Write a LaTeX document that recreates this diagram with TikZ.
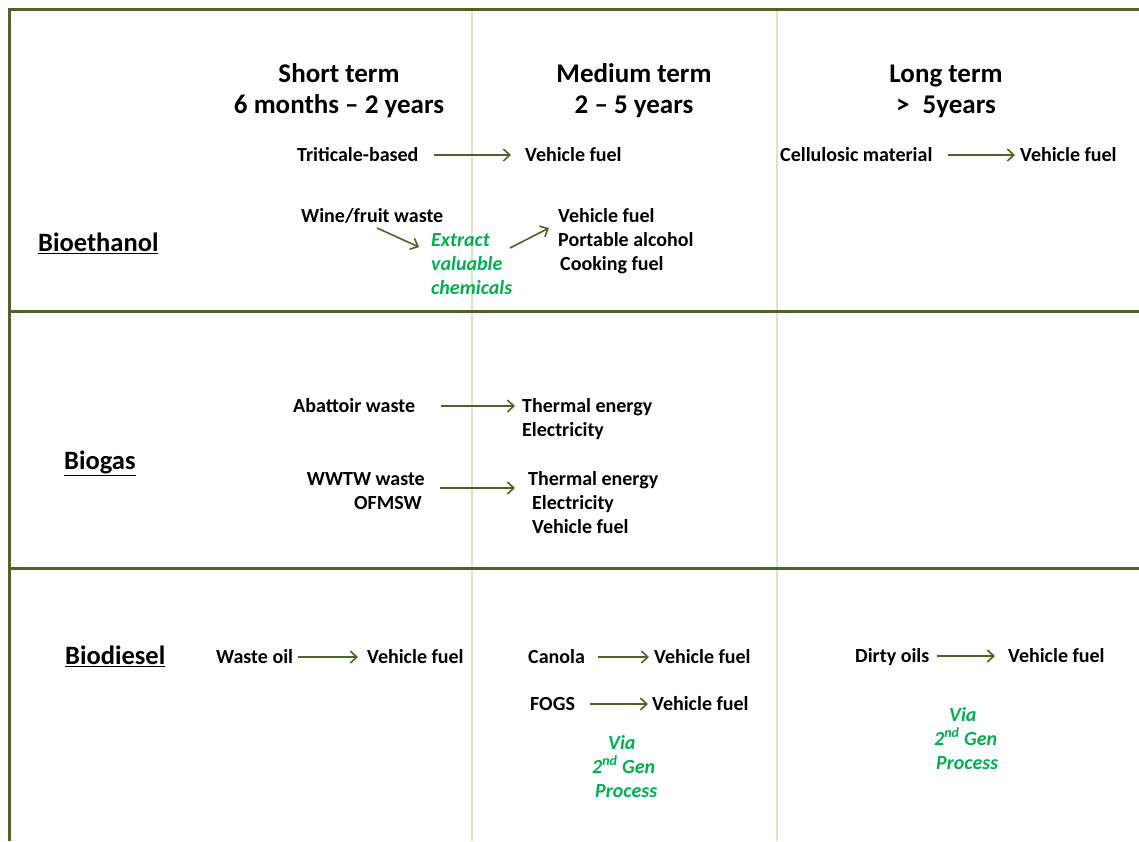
\documentclass[tikz,border=0pt]{standalone}
\usepackage{fontspec}
\setmainfont{Carlito}
\usetikzlibrary{arrows.meta,calc}
\definecolor{cGrid}{HTML}{4F6228}
\definecolor{cGridLight}{HTML}{DCE6C6}
\definecolor{cFlow}{HTML}{4F6228}
\definecolor{cNote}{HTML}{00B050}
\tikzset{
  colHead/.style={font=\bfseries\fontsize{27}{31}\selectfont, align=center,
                  anchor=base, inner sep=0pt},
  rowHead/.style={font=\bfseries\fontsize{26.5}{30}\selectfont, anchor=west,
                  inner sep=0pt, text height=17pt, text depth=0pt},
  item/.style={font=\bfseries\fontsize{20}{24}\selectfont, anchor=west,
               inner sep=0pt, text height=12.9pt, text depth=0pt},
  note/.style={item, font=\bfseries\itshape\fontsize{20}{24}\selectfont, text=cNote},
  flow/.style={draw=cFlow, line width=1.6pt, -{Straight Barb[length=6.5pt,width=12pt]}},
  gridMain/.style={draw=cGrid, line width=3pt},
  gridLight/.style={draw=cGridLight, line width=1.5pt},
}
\begin{document}
\begin{tikzpicture}[x=1pt, y=-1pt]
\useasboundingbox (0,0) rectangle (1139,841);

% ========== GRID ==========
\draw[gridLight] (472,9) -- (472,841);
\draw[gridLight] (777,9) -- (777,841);
\draw[gridMain] (1139,9) -- (9,9) -- (9,841);
\draw[gridMain] (9,311) -- (1139,311);
\draw[gridMain] (9,568) -- (1139,568);

% ========== COLUMN HEADINGS ==========
\node[colHead] (hShort) at (339,113) {Short term\\6 months -- 2 years};
\node[colHead] (hMed) at (634,113) {Medium term\\2 -- 5 years};
\node[colHead] (hLong) at (946,113) {Long term\\>\hspace{13pt}5years};

% ========== BIOETHANOL ==========
\node[rowHead] (rEth) at (38,243) {\underline{Bioethanol}};

\node[item] (trit) at (297,155) {Triticale-based};
\node[item] (tritOut) at (525,155) {Vehicle fuel};
\draw[flow, shorten <=15pt, shorten >=14pt] (trit.east) -- (tritOut.west);

\node[item] (cell) at (780,155) {Cellulosic material};
\node[item] (cellOut) at (1020,155) {Vehicle fuel};
\draw[flow, shorten <=15pt, shorten >=5pt] (cell.east) -- (cellOut.west);

\node[item] (wine) at (301,216) {Wine/fruit waste};
\node[note] (ext1) at (431,240) {Extract};
\node[note] (ext2) at (431,264) {valuable};
\node[note] (ext3) at (431,288) {chemicals};
\node[item] (wineOut1) at (558,216) {Vehicle fuel};
\node[item] (wineOut2) at (558,240) {Portable alcohol};
\node[item] (wineOut3) at (560,264) {Cooking fuel};
\draw[flow] ($(wine.west)+(76,12)$) -- ($(ext1.west)+(-12,7)$);
\draw[flow] ($(ext1.west)+(79,8)$) -- ($(wineOut1.west)+(-9,12)$);

% ========== BIOGAS ==========
\node[rowHead] (rGas) at (64,461) {\underline{Biogas}};

\node[item] (abat) at (293,406) {Abattoir waste};
\node[item] (abatOut1) at (522,406) {Thermal energy};
\node[item] (abatOut2) at (522,430) {Electricity};
\draw[flow, shorten <=26pt, shorten >=7pt] (abat.east) -- (abatOut1.west);

\node[item, anchor=east] (wwtw1) at (425,479) {WWTW waste};
\node[item, anchor=east] (wwtw2) at (422,503) {OFMSW};
\node[item] (wwtwOut1) at (528,479) {Thermal energy};
\node[item] (wwtwOut2) at (532,503) {Electricity};
\node[item] (wwtwOut3) at (532,527) {Vehicle fuel};
\draw[flow] ($(wwtw1.east)+(15,9)$) -- ($(wwtwOut1.west)+(-13,9)$);

% ========== BIODIESEL ==========
\node[rowHead] (rDie) at (65,656) {\underline{Biodiesel}};

\node[item] (woil) at (216,657) {Waste oil};
\node[item] (woilOut) at (367,657) {Vehicle fuel};
\draw[flow, shorten <=5pt, shorten >=9pt] (woil.east) -- (woilOut.west);

\node[item] (canola) at (528,657) {Canola};
\node[item] (canolaOut) at (654,657) {Vehicle fuel};
\draw[flow, shorten <=13pt, shorten >=5pt] (canola.east) -- (canolaOut.west);

\node[item] (fogs) at (530,704) {FOGS};
\node[item] (fogsOut) at (652,704) {Vehicle fuel};
\draw[flow, shorten <=15pt, shorten >=4pt] (fogs.east) -- (fogsOut.west);

\node[note] (viaM1) at (608,743) {Via};
\node[note] (viaM2) at (592,767) {2\textsuperscript{nd} Gen};
\node[note] (viaM3) at (595,791) {Process};

\node[item] (dirty) at (855,656) {Dirty oils};
\node[item] (dirtyOut) at (1008,656) {Vehicle fuel};
\draw[flow, shorten <=7pt, shorten >=13pt] (dirty.east) -- (dirtyOut.west);

\node[note] (viaL1) at (949,715) {Via};
\node[note] (viaL2) at (934,739) {2\textsuperscript{nd} Gen};
\node[note] (viaL3) at (936,763) {Process};

\end{tikzpicture}
\end{document}
